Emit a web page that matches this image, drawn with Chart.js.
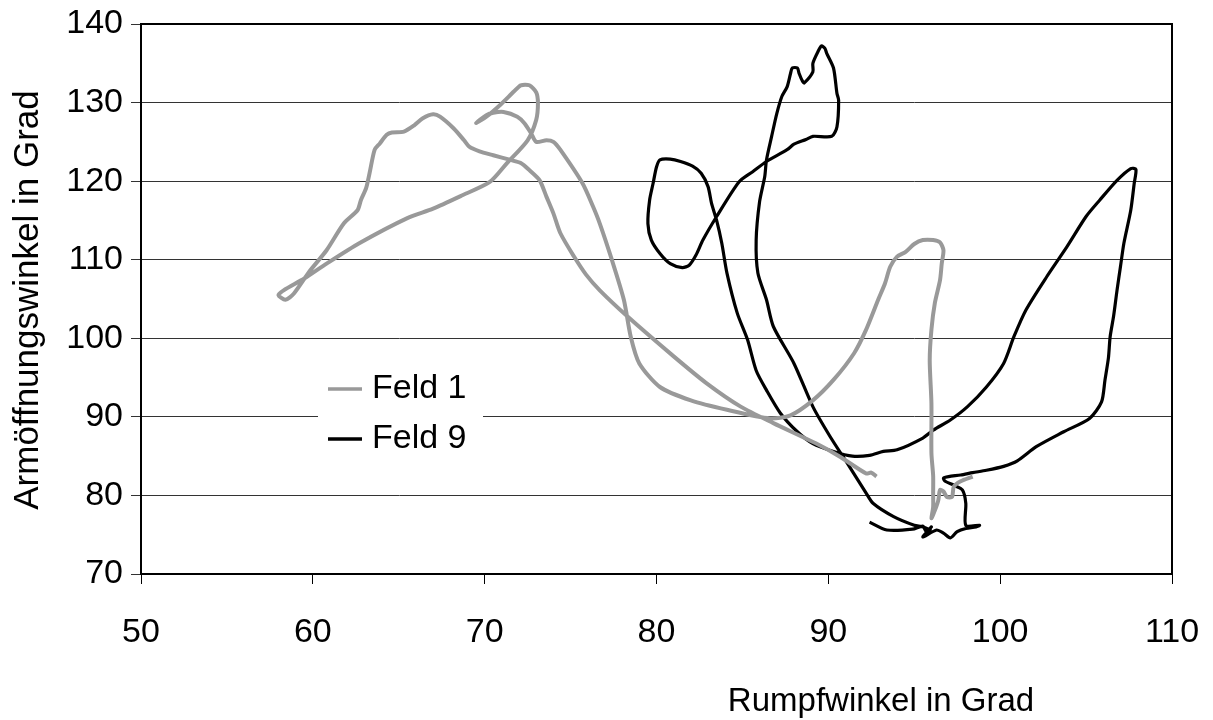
<!DOCTYPE html>
<html>
<head>
<meta charset="utf-8">
<script src="https://cdn.jsdelivr.net/npm/chart.js@4/dist/chart.umd.min.js"></script>
<style>
  html, body { margin: 0; padding: 0; background: #fff; }
  #wrap { width: 1213px; height: 720px; }
</style>
</head>
<body>
<div id="wrap"><canvas id="chart" width="1213" height="720"></canvas></div>
<script>
// Rumpfwinkel (x) vs. Armöffnungswinkel (y)
const xTicks = [50, 60, 70, 80, 90, 100, 110];
const yTicks = [70, 80, 90, 100, 110, 120, 130, 140];
const seriesNames = ['Feld 1', 'Feld 9'];

const feld1X = [98.4, 97.7, 97.3, 97.2, 96.9, 96.7, 96.5, 96.4, 96.2, 96.0, 96.1, 96.1, 96.1, 96.0, 96.0, 95.9, 96.0, 96.2, 96.5, 96.6, 96.7, 96.5, 96.1, 95.5, 95.0, 94.5, 94.0, 93.6, 93.3, 92.9, 92.2, 91.5, 90.3, 89.1, 87.8, 86.6, 84.1, 82.0, 80.2, 79.0, 78.5, 78.1, 77.4, 76.7, 76.3, 75.7, 74.4, 74.0, 73.6, 73.0, 72.7, 72.3, 71.9, 71.1, 70.5, 70.1, 69.5, 70.1, 70.9, 71.7, 72.1, 72.6, 73.0, 73.1, 73.0, 72.5, 71.3, 70.3, 68.6, 67.0, 65.5, 62.7, 60.8, 59.5, 58.3, 58.0, 58.4, 58.9, 59.8, 60.8, 61.8, 62.6, 62.8, 63.1, 63.3, 63.6, 63.9, 64.3, 64.6, 65.3, 65.9, 66.4, 67.0, 67.4, 68.2, 68.8, 69.1, 69.7, 70.5, 71.5, 72.1, 72.6, 73.2, 73.6, 74.0, 74.4, 75.2, 75.9, 76.7, 78.3, 81.0, 82.9, 84.9, 86.8, 89.3, 90.7, 92.2, 92.5, 92.8];
const feld1Y = [82.4, 81.8, 81.1, 79.8, 79.8, 80.5, 80.7, 79.4, 78.1, 77.1, 78.5, 80.3, 82.5, 85.4, 91.7, 97.2, 101.1, 104.5, 107.4, 109.5, 111.2, 112.2, 112.5, 112.5, 112.0, 111.0, 110.4, 109.1, 107.0, 104.9, 101.1, 98.1, 94.7, 92.1, 90.2, 89.8, 90.9, 92.1, 93.8, 96.8, 100.2, 104.9, 110.0, 114.6, 116.8, 119.7, 124.0, 125.0, 125.2, 125.0, 126.1, 127.4, 128.2, 128.8, 128.7, 128.4, 127.4, 128.2, 129.7, 131.4, 132.2, 132.2, 131.3, 129.9, 127.8, 125.2, 122.3, 119.9, 118.1, 116.5, 115.3, 112.1, 109.5, 107.6, 106.1, 105.5, 104.9, 105.7, 108.5, 111.2, 114.6, 116.3, 117.6, 119.1, 121.0, 124.0, 124.8, 125.9, 126.2, 126.3, 127.1, 128.0, 128.5, 128.2, 126.7, 125.2, 124.4, 123.8, 123.3, 122.7, 122.3, 121.4, 120.1, 118.0, 115.9, 113.4, 110.4, 108.1, 106.1, 102.8, 97.7, 94.3, 91.3, 89.2, 86.6, 84.9, 82.8, 82.9, 82.4];

const feld9X = [92.4, 93.4, 94.9, 95.5, 95.7, 96.0, 95.5, 96.3, 96.7, 97.1, 97.5, 98.0, 98.6, 98.8, 98.0, 98.0, 97.8, 97.3, 96.8, 96.7, 97.0, 97.7, 98.4, 99.2, 100.2, 101.0, 102.1, 103.7, 105.2, 105.9, 106.1, 106.3, 106.4, 106.6, 106.8, 107.0, 107.2, 107.6, 107.8, 107.9, 107.6, 106.8, 105.8, 105.0, 103.9, 102.7, 101.5, 100.8, 100.2, 99.2, 98.1, 97.1, 96.1, 95.5, 94.0, 93.2, 92.4, 91.4, 90.3, 89.1, 88.2, 87.2, 86.4, 85.8, 85.3, 84.7, 84.1, 83.8, 83.5, 83.2, 83.0, 82.6, 82.1, 81.4, 80.8, 80.2, 80.0, 79.8, 79.6, 79.5, 79.7, 80.2, 80.8, 81.5, 81.9, 82.3, 82.7, 83.5, 84.8, 85.6, 86.4, 87.6, 88.0, 88.7, 89.1, 90.2, 90.5, 90.6, 90.5, 90.3, 89.9, 89.8, 89.6, 89.4, 89.1, 89.1, 88.6, 88.5, 88.3, 88.2, 87.9, 87.8, 87.6, 87.3, 87.0, 86.7, 86.4, 86.3, 86.0, 85.8, 85.9, 86.4, 86.8, 88.0, 89.1, 90.1, 91.1, 92.2, 92.6, 93.8, 95.0, 95.5, 96.0];
const feld9Y = [76.6, 75.6, 75.7, 76.1, 75.4, 76.0, 74.7, 75.6, 75.2, 74.6, 75.4, 75.8, 76.0, 76.2, 76.2, 79.0, 80.7, 81.3, 81.8, 82.2, 82.4, 82.6, 82.9, 83.2, 83.7, 84.4, 86.2, 88.1, 89.8, 91.9, 94.7, 97.5, 100.2, 102.8, 106.1, 109.1, 112.1, 116.3, 119.7, 121.5, 121.6, 120.1, 117.6, 115.5, 111.7, 107.8, 103.6, 100.2, 96.8, 93.8, 91.3, 89.6, 88.3, 87.3, 85.8, 85.6, 85.1, 85.0, 85.6, 86.6, 88.1, 90.5, 93.4, 95.9, 99.8, 103.2, 108.3, 112.1, 115.0, 117.2, 119.3, 121.0, 121.9, 122.5, 122.8, 122.7, 121.8, 119.7, 117.6, 114.6, 112.5, 110.8, 109.5, 109.0, 109.3, 110.6, 112.5, 115.5, 119.9, 121.2, 122.5, 124.0, 124.7, 125.3, 125.7, 125.7, 126.9, 130.3, 131.2, 134.4, 136.3, 136.9, 137.2, 136.5, 135.0, 133.9, 132.5, 132.7, 133.7, 134.4, 134.4, 133.7, 132.0, 130.8, 128.6, 125.7, 122.7, 120.6, 117.4, 112.5, 108.3, 104.9, 101.5, 96.8, 91.3, 87.5, 84.1, 80.3, 79.0, 77.3, 76.2, 76.0, 75.5];

const FONT = "'Liberation Sans', Arial, sans-serif";
const FONT_SIZE = 34;
const toPoints = (xs, ys) => xs.map((x, i) => ({ x, y: ys[i] }));

// border around plot, axis titles and the boxed legend
const decor = {
  id: 'decor',
  afterDraw(chart) {
    const { ctx, chartArea: a } = chart;
    ctx.save();
    ctx.strokeStyle = '#000';
    ctx.lineWidth = 2;
    ctx.strokeRect(a.left, a.top, a.right - a.left, a.bottom - a.top);

    ctx.fillStyle = '#000';
    ctx.textAlign = 'center';
    ctx.textBaseline = 'middle';
    ctx.font = '33px ' + FONT;
    ctx.fillText('Rumpfwinkel in Grad', 881, 702);

    ctx.save();
    ctx.translate(28, 300);
    ctx.rotate(-Math.PI / 2);
    ctx.font = '35px ' + FONT;
    ctx.fillText('Armöffnungswinkel in Grad', 0, 0);
    ctx.restore();

    // legend
    ctx.font = FONT_SIZE + 'px ' + FONT;
    ctx.fillStyle = '#fff';
    ctx.fillRect(318, 366, 165, 90);
    const items = [
      { name: seriesNames[0], color: '#999999', y: 389 },
      { name: seriesNames[1], color: '#000000', y: 439 }
    ];
    items.forEach(it => {
      ctx.strokeStyle = it.color;
      ctx.lineWidth = 3.5;
      ctx.beginPath();
      ctx.moveTo(328, it.y);
      ctx.lineTo(362, it.y);
      ctx.stroke();
      ctx.fillStyle = '#000';
      ctx.textAlign = 'left';
      ctx.fillText(it.name, 372, it.y);
    });
    ctx.restore();
  }
};

new Chart(document.getElementById('chart'), {
  type: 'scatter',
  data: {
    datasets: [
      {
        label: seriesNames[0],
        data: toPoints(feld1X, feld1Y),
        showLine: true,
        borderColor: '#999999',
        borderWidth: 4,
        pointRadius: 0,
        tension: 0.25
      },
      {
        label: seriesNames[1],
        data: toPoints(feld9X, feld9Y),
        showLine: true,
        borderColor: '#000000',
        borderWidth: 3.2,
        pointRadius: 0,
        tension: 0.25
      }
    ]
  },
  options: {
    responsive: false,
    animation: false,
    layout: { padding: { left: 0, top: 24, right: 41, bottom: 0 } },
    plugins: { legend: { display: false }, tooltip: { enabled: false } },
    scales: {
      x: {
        type: 'linear',
        min: xTicks[0],
        max: xTicks[xTicks.length - 1],
        afterBuildTicks: s => { s.ticks = xTicks.map(v => ({ value: v })); },
        afterFit: s => { s.height = 146; s.paddingLeft = 0; s.paddingRight = 0; },
        grid: { drawOnChartArea: false, drawTicks: true, tickLength: 10, color: '#000', lineWidth: 1 },
        border: { display: true, color: '#000', width: 2 },
        ticks: { color: '#000', font: { family: FONT, size: FONT_SIZE }, padding: 28, maxRotation: 0 }
      },
      y: {
        type: 'linear',
        min: yTicks[0],
        max: yTicks[yTicks.length - 1],
        afterBuildTicks: s => { s.ticks = yTicks.map(v => ({ value: v })); },
        afterFit: s => { s.width = 141; s.paddingTop = 0; s.paddingBottom = 0; },
        grid: { drawOnChartArea: true, drawTicks: true, tickLength: 10, color: '#333', lineWidth: 1 },
        border: { display: true, color: '#000', width: 2 },
        ticks: { color: '#000', font: { family: FONT, size: FONT_SIZE }, padding: 8 }
      }
    }
  },
  plugins: [decor]
});
</script>
</body>
</html>
